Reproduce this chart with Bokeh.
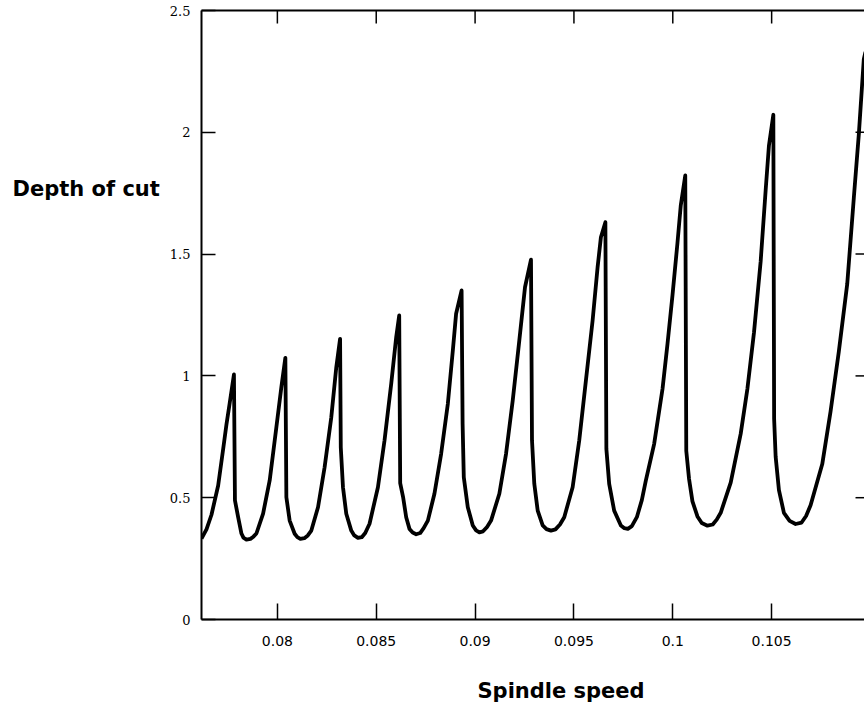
from bokeh.plotting import figure
from bokeh.layouts import row, column
from bokeh.models import FixedTicker, Range1d, LinearAxis
from bokeh.core.properties import value
from bokeh.embed import file_html
from bokeh.resources import INLINE

# ---- data (one row per lobe) ----
spindle_speed = [
    0.076162, 0.076414, 0.076667, 0.077005, 0.077258, 0.077424, 0.077591, 0.077803,
    0.077854, 0.078015, 0.078182, 0.078283, 0.078434, 0.078636, 0.078788, 0.078939, 0.079278, 0.079611, 0.079949, 0.080202, 0.080404,
    0.080455, 0.080621, 0.080874, 0.081010, 0.081162, 0.081364, 0.081540, 0.081717, 0.082056, 0.082389, 0.082727, 0.082980, 0.083172,
    0.083207, 0.083318, 0.083485, 0.083737, 0.083889, 0.084076, 0.084268, 0.084444, 0.084662, 0.085086, 0.085419, 0.085758, 0.086010, 0.086162,
    0.086212, 0.086364, 0.086515, 0.086682, 0.086843, 0.087020, 0.087222, 0.087399, 0.087611, 0.087944, 0.088283, 0.088621, 0.088874, 0.089040, 0.089318,
    0.089369, 0.089429, 0.089631, 0.089884, 0.090051, 0.090217, 0.090404, 0.090606, 0.090808, 0.091227, 0.091566, 0.091904, 0.092237, 0.092525, 0.092828,
    0.092879, 0.092995, 0.093167, 0.093419, 0.093611, 0.093838, 0.094066, 0.094293, 0.094510, 0.094934, 0.095268, 0.095606, 0.095944, 0.096197, 0.096364, 0.096591,
    0.096641, 0.096783, 0.097035, 0.097374, 0.097551, 0.097727, 0.097929, 0.098182, 0.098434, 0.098636, 0.099056, 0.099480, 0.099732, 0.099985, 0.100237, 0.100404, 0.100631,
    0.100682, 0.100823, 0.100995, 0.101247, 0.101465, 0.101753, 0.102020, 0.102222, 0.102424, 0.102929, 0.103434, 0.103773, 0.104106, 0.104444, 0.104697, 0.104864, 0.105086,
    0.105126, 0.105202, 0.105369, 0.105621, 0.105909, 0.106212, 0.106515, 0.106742, 0.106970, 0.107561, 0.107980, 0.108399, 0.108823, 0.109157, 0.109410, 0.109662, 0.109747,
]
depth_of_cut = [
    0.332, 0.370, 0.430, 0.550, 0.700, 0.800, 0.890, 1.006,
    0.489, 0.420, 0.353, 0.336, 0.328, 0.331, 0.340, 0.353, 0.435, 0.571, 0.789, 0.954, 1.074,
    0.502, 0.406, 0.352, 0.338, 0.331, 0.334, 0.345, 0.365, 0.461, 0.625, 0.830, 1.036, 1.152,
    0.707, 0.543, 0.434, 0.365, 0.345, 0.335, 0.338, 0.355, 0.393, 0.543, 0.735, 0.968, 1.159, 1.248,
    0.560, 0.500, 0.420, 0.372, 0.357, 0.350, 0.355, 0.375, 0.406, 0.516, 0.680, 0.885, 1.104, 1.255, 1.351,
    0.803, 0.584, 0.461, 0.386, 0.366, 0.358, 0.362, 0.380, 0.406, 0.516, 0.680, 0.899, 1.145, 1.364, 1.477,
    0.735, 0.557, 0.447, 0.386, 0.371, 0.365, 0.370, 0.390, 0.420, 0.543, 0.735, 0.981, 1.227, 1.446, 1.569, 1.631,
    0.700, 0.557, 0.447, 0.386, 0.375, 0.372, 0.383, 0.420, 0.490, 0.570, 0.720, 0.946, 1.131, 1.331, 1.546, 1.700, 1.823,
    0.692, 0.577, 0.485, 0.423, 0.396, 0.385, 0.390, 0.410, 0.438, 0.562, 0.762, 0.946, 1.177, 1.469, 1.762, 1.946, 2.072,
    0.823, 0.669, 0.531, 0.438, 0.405, 0.392, 0.398, 0.425, 0.469, 0.638, 0.854, 1.100, 1.377, 1.731, 1.992, 2.300, 2.330,
]
x_ticks = [0.08, 0.085, 0.09, 0.095, 0.1, 0.105]
x_tick_labels = ["0.08", "0.085", "0.09", "0.095", "0.1", "0.105"]
y_ticks = [0, 0.5, 1, 1.5, 2, 2.5]
y_tick_labels = ["0", "0.5", "1", "1.5", "2", "2.5"]
right_ticks = [0.5, 1, 1.5, 2]
x_title = "Spindle speed"
y_title = "Depth of cut"
x_start, x_end = 0.076162, 0.109697
y_start, y_end = 0.0, 2.5

TOTAL_W = 864
TOP_H = 655          # height of the plot row
BOT_H = 56           # strip below, holding the x title
LEFT_W = 166
FRAME_W = 664
FRAME_H = 609


def blank(width, height):
    f = figure(width=width, height=height, x_range=Range1d(0, width), y_range=Range1d(0, height),
               output_backend="svg", toolbar_location=None,
               x_axis_location=None, y_axis_location=None)
    f.min_border = 0
    f.outline_line_color = None
    f.xgrid.visible = False
    f.ygrid.visible = False
    f.background_fill_color = "white"
    f.border_fill_color = "white"
    return f


# ---- left strip holding the horizontal y title ----
lf = blank(LEFT_W, TOP_H)
lf.text(x=[12], y=[TOP_H - 192], text=[y_title], text_font=value("DejaVu Sans"),
        text_font_style="bold", text_font_size="21px", text_color="black",
        text_align="left", text_baseline="alphabetic")

# ---- bottom strip holding the x title ----
bf = blank(TOTAL_W, BOT_H)
bf.text(x=[477], y=[BOT_H - (690 - TOP_H)], text=[x_title], text_font=value("DejaVu Sans"),
        text_font_style="bold", text_font_size="21px", text_color="black",
        text_align="left", text_baseline="alphabetic")

# ---- main plot ----
p = figure(width=TOTAL_W - LEFT_W, height=TOP_H,
           x_range=Range1d(x_start, x_end), y_range=Range1d(y_start, y_end),
           output_backend="svg", toolbar_location=None)
p.min_border_left = 34
p.min_border_right = 0
p.min_border_top = 10
p.min_border_bottom = TOP_H - 10 - FRAME_H
p.outline_line_color = None
p.xgrid.visible = False
p.ygrid.visible = False
p.background_fill_color = "white"
p.border_fill_color = "white"

xa = p.xaxis[0]
xa.ticker = FixedTicker(ticks=x_ticks)
xa.major_label_overrides = {t: s for t, s in zip(x_ticks, x_tick_labels)}
xa.major_tick_in = 16
xa.major_tick_out = 0
xa.minor_tick_line_color = None
xa.axis_line_width = 2
xa.axis_line_color = "black"
xa.major_tick_line_width = 1.5
xa.major_tick_line_color = "black"
xa.major_label_text_font = "DejaVu Sans"
xa.major_label_text_font_size = "14px"
xa.major_label_text_color = "black"
xa.major_label_standoff = 16

ya = p.yaxis[0]
ya.ticker = FixedTicker(ticks=y_ticks)
ya.major_label_overrides = {t: s for t, s in zip(y_ticks, y_tick_labels)}
ya.major_tick_in = 14
ya.major_tick_out = 0
ya.minor_tick_line_color = None
ya.axis_line_width = 2
ya.axis_line_color = "black"
ya.major_tick_line_width = 1.5
ya.major_tick_line_color = "black"
ya.major_label_text_font = "DejaVu Serif"
ya.major_label_text_font_size = "13px"
ya.major_label_text_color = "black"
ya.major_label_standoff = 11

# top frame line (an axis without ticks, hence without labels)
top = LinearAxis(ticker=FixedTicker(ticks=[]), axis_line_width=2, axis_line_color="black",
                 major_tick_in=0, major_tick_out=0, minor_tick_line_color=None,
                 major_label_standoff=0)
p.add_layout(top, "above")

# inward ticks on the top and right edges
top_len = (y_end - y_start) * 13 / FRAME_H
right_len = (x_end - x_start) * 9 / FRAME_W
p.segment(x0=x_ticks, y0=[y_end] * len(x_ticks), x1=x_ticks, y1=[y_end - top_len] * len(x_ticks),
          line_color="black", line_width=1.5)
p.segment(x0=[x_end] * len(right_ticks), y0=right_ticks, x1=[x_end - right_len] * len(right_ticks),
          y1=right_ticks, line_color="black", line_width=1.5)

p.line(spindle_speed, depth_of_cut, line_color="black", line_width=3.8, line_join="round")

layout = column(row(lf, p), bf)
open("out.html", "w").write(file_html(layout, INLINE))
